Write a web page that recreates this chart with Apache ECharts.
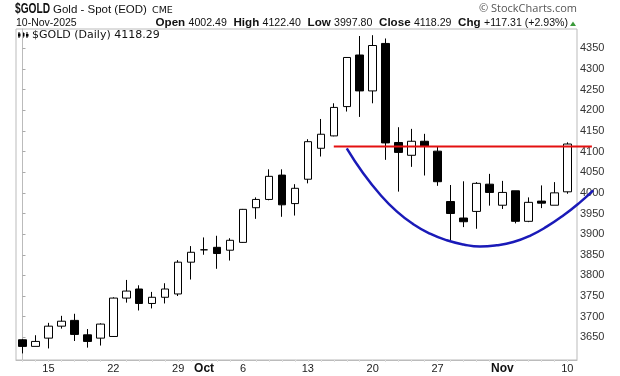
<!DOCTYPE html>
<html><head><meta charset="utf-8">
<script src="https://cdn.jsdelivr.net/npm/echarts@6/dist/echarts.min.js"></script>
<style>html,body{margin:0;padding:0;background:#fff}#c{width:620px;height:376px}</style>
</head><body><div id="c"></div>
<script>
const dates = ['Sep 11','Sep 12','Sep 15','Sep 16','Sep 17','Sep 18','Sep 19','Sep 22','Sep 23','Sep 24','Sep 25','Sep 26','Sep 29','Sep 30','Oct 1','Oct 2','Oct 3','Oct 6','Oct 7','Oct 8','Oct 9','Oct 10','Oct 13','Oct 14','Oct 15','Oct 16','Oct 17','Oct 20','Oct 21','Oct 22','Oct 23','Oct 24','Oct 27','Oct 28','Oct 29','Oct 30','Oct 31','Nov 3','Nov 4','Nov 5','Nov 6','Nov 7','Nov 10'];
const opens  = [3644,3628,3648,3677,3691,3656,3648,3652,3745,3767,3732,3747,3755,3832,3862,3868,3861,3880,3964,3984,4043,3974,4033,4108,4138,4209,4334,4247,4362,4122,4091,4125,4101,3979,3939,3955,4021,3970,4005,3931,3980,3970,4002.49];
const closes = [3628,3640,3677,3689,3657,3640,3682,3745,3762,3732,3747,3767,3832,3856,3862,3853,3885,3960,3984,4040,3971,4011,4124,4142,4207,4328,4247,4357,4121,4098,4125,4113,4027,3950,3930,4023,4001,4001,3931,3977,3975,4000,4118.29];
const lows   = [3611,3628,3623,3671,3641,3625,3630,3651,3734,3715,3720,3732,3750,3790,3850,3816,3836,3879,3937,3982,3942,3945,4023,4088,4137,4197,4184,4217,4080,4003,4063,4042,4017,3884,3917,3913,3969,3961,3926,3929,3963,3970,3997.80];
const highs  = [3646,3655,3685,3702,3707,3670,3684,3747,3789,3776,3760,3781,3837,3871,3892,3896,3890,3961,3989,4057,4057,4021,4130,4179,4217,4329,4380,4382,4374,4159,4155,4143,4112,4019,4028,4026,4046,4029,4005,3989,4018,4026,4122.40];

const tickDates  = ['Sep 15','Sep 22','Sep 29','Oct 1','Oct 6','Oct 13','Oct 20','Oct 27','Nov 3','Nov 10'];
const tickLabels = ['15','22','29','Oct','6','13','20','27','Nov','10'];
const priceTicks = [3650,3700,3750,3800,3850,3900,3950,4000,4050,4100,4150,4200,4250,4300,4350];

// resistance line (red) and rounded bottom (blue), in (day index, price)
const resistX = [24.0, 43.9];
const resistY = [4112, 4112];
const cupX = [25.0,26.28,27.57,28.85,30.13,31.42,32.71,33.99,35.27,36.56,37.84,39.12,40.41,41.69,42.98,44.0];
const cupY = [4108,4047,3996,3955,3924,3901,3885,3875,3870,3873,3881,3896,3918,3945,3977,4006];

const candleData = dates.map((d,i)=>[i, opens[i], closes[i], lows[i], highs[i]]);
const tickIdx = tickDates.map(d=>dates.indexOf(d));
const labelMap = {}; tickIdx.forEach((ix,k)=>labelMap[ix]=tickLabels[k]);

const chart = echarts.init(document.getElementById('c'), null, {renderer:'canvas'});
const AR = 'Liberation Sans, Arial, sans-serif';
const pxPerDay = 561/43.25;
chart.setOption({
  animation:false,
  backgroundColor:'#fff',
  grid:[
    {left:16,right:43,top:29,bottom:16,containLabel:false,outerBoundsMode:'none',show:true,borderColor:'#bbb',borderWidth:1},
    {left:16,right:20,top:29,bottom:16,containLabel:false,outerBoundsMode:'none',show:false}
  ],
  xAxis:[
    {type:'value',gridIndex:0,min:-0.5,max:42.75,
      axisLine:{show:true,lineStyle:{color:'#bbb'}},
      splitLine:{show:false},
      axisTick:{show:true,length:2,lineStyle:{color:'#ddd'},customValues:dates.map((d,i)=>i)},
      axisLabel:{customValues:tickIdx,margin:3,fontFamily:AR,fontSize:11,color:'#222',
        formatter:v=>{const t=labelMap[Math.round(v)]||''; return (t==='Oct'||t==='Nov')?'{b|'+t+'}':t;},
        rich:{b:{fontWeight:'bold',fontFamily:AR,fontSize:12,color:'#111'}}}
    },
    {type:'value',gridIndex:1,min:-0.5,max:-0.5+584/pxPerDay,show:false}
  ],
  yAxis:[
    {type:'value',gridIndex:0,position:'right',min:3595,max:4397,scale:true,
      axisLine:{show:true,lineStyle:{color:'#bbb'}},
      splitLine:{show:false},
      axisTick:{show:true,length:3,lineStyle:{color:'#aaa'},customValues:priceTicks},
      axisLabel:{customValues:priceTicks,margin:3,fontFamily:AR,fontSize:11,color:'#333',formatter:v=>String(v)}
    },
    {type:'value',gridIndex:1,min:3595,max:4397,scale:true,show:false}
  ],
  series:[
    {type:'candlestick',xAxisIndex:0,yAxisIndex:0,data:candleData,encode:{x:0,y:[1,2,3,4]},barWidth:8,
      itemStyle:{color:'#fff',color0:'#000',borderColor:'#000',borderColor0:'#000',borderWidth:1}},
    {type:'line',xAxisIndex:1,yAxisIndex:1,data:resistX.map((x,i)=>[x,resistY[i]]),clip:false,symbol:'none',
      lineStyle:{color:'#e41010',width:2},z:5},
    {type:'line',xAxisIndex:1,yAxisIndex:1,data:cupX.map((x,i)=>[x,cupY[i]]),clip:false,symbol:'none',smooth:0.5,
      lineStyle:{color:'#1a1ab8',width:2.5},z:5}
  ],
  graphic:[
    {type:'text',x:15,y:1.5,scaleX:0.68,style:{x:0,y:0,text:'$GOLD',font:'bold 15px Liberation Sans, Arial, sans-serif',fill:'#111'}},
    {type:'text',left:53,top:4,style:{text:'Gold - Spot (EOD)',font:'11.5px '+AR,fill:'#111'}},
    {type:'text',left:152,top:6,style:{text:'CME',font:'9.5px "DejaVu Sans", sans-serif',fill:'#111'}},
    {type:'text',right:43,top:3,style:{text:'© StockCharts.com',font:'11px "Open Sans", sans-serif',fill:'#555'}},
    {type:'text',left:16,top:18,style:{text:'10-Nov-2025',font:'10.5px '+AR,fill:'#111'}},
    {type:'text',right:52,top:17,style:{
      text:'{b|Open} {n|4002.49}  {b|High} {n|4122.40}  {b|Low} {n|3997.80}  {b|Close} {n|4118.29}  {b|Chg} {n|+117.31 (+2.93%)}',
      rich:{b:{font:'bold 11.6px '+AR,fill:'#111'},n:{font:'10.6px '+AR,fill:'#111'}}}},
    {type:'polygon',shape:{points:[[570,26],[576,26],[573,21.5]]},style:{fill:'#3a9a3a'}},
    {type:'group',children:[
      {type:'line',shape:{x1:19,y1:32,x2:19,y2:38},style:{stroke:'#000',lineWidth:1}},
      {type:'rect',shape:{x:18,y:33.5,width:2.5,height:3},style:{fill:'#000'}},
      {type:'line',shape:{x1:23,y1:32,x2:23,y2:38},style:{stroke:'#000',lineWidth:1}},
      {type:'rect',shape:{x:22,y:33,width:2.5,height:3.5},style:{fill:'#000'}},
      {type:'line',shape:{x1:27,y1:32,x2:27,y2:38},style:{stroke:'#000',lineWidth:1}},
      {type:'rect',shape:{x:26,y:34,width:2.5,height:2.5},style:{fill:'#000'}}
    ]},
    {type:'text',left:32,top:30,style:{text:'$GOLD (Daily) 4118.29',font:'11px "DejaVu Sans", sans-serif',fill:'#111'}}
  ]
});
</script>
</body></html>
